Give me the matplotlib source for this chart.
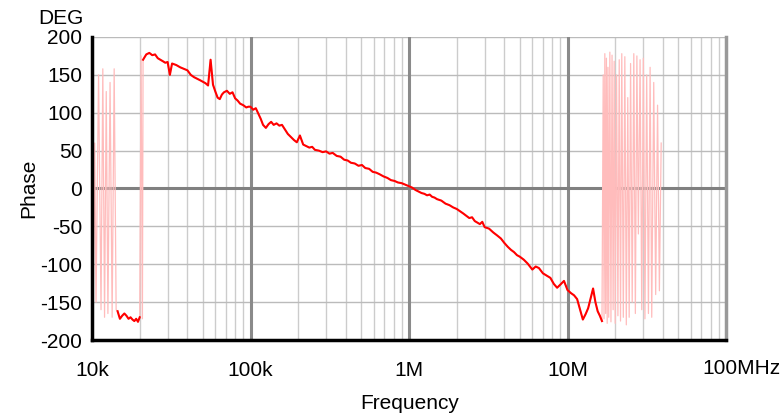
import matplotlib
matplotlib.use("Agg")
import matplotlib.pyplot as plt
import numpy as np
from matplotlib.ticker import FixedLocator, NullFormatter

plt.rcParams['font.family'] = ['Liberation Sans', 'DejaVu Sans']
plt.rcParams['axes.unicode_minus'] = False

# low-frequency part (wrapping around +-180), kHz
low_khz = [10.0, 10.2, 10.4, 10.6, 11.0, 11.4, 11.7, 12.0, 12.3, 12.6, 13.0, 13.4,
           13.8, 14.2]
low_phase = [140, -130, 60, -150, 150, -160, 158, -170, 128, -165, 140, -170,
             158, -160]

# main continuous trace, kHz
main_khz = [14.5, 15.0, 15.5, 16.0, 16.5, 17.0, 17.5, 18.0, 18.5, 19.0, 19.5, 20.0,
            20.4, 20.8,
            21, 22, 23, 24, 25, 26, 27, 28, 29, 30, 31, 32, 34, 36, 38, 40, 42, 44,
            46, 48, 50, 52, 54, 56, 58, 60, 62, 64, 66, 68, 71, 74, 77, 80, 83, 86,
            90, 94, 97,
            100, 104, 108, 112, 116, 120, 125, 130, 135, 140, 146, 152, 158, 165,
            172, 180, 188, 196, 205, 215, 225, 235, 245, 255, 270, 285, 300, 315,
            330, 350, 370, 390, 410, 430, 455, 480, 505, 530, 560, 590, 620, 650,
            690, 730, 770, 810, 850, 900, 950,
            1000, 1050, 1100, 1150, 1200, 1250, 1300, 1350, 1400, 1450, 1500, 1600,
            1700, 1800, 1900, 2000, 2100, 2200, 2300, 2400, 2500, 2600, 2700, 2800,
            2900, 3000, 3200, 3400, 3600, 3800, 4000, 4200, 4400, 4600, 4800, 5000,
            5300, 5600, 6000, 6300, 6600, 7000, 7400, 7800, 8200, 8600, 9000, 9500,
            10000, 10500, 11000, 11500, 12000, 12500, 13000, 13500, 14000, 14500,
            15000, 15500, 16000, 16500]
main_phase = [-162, -172, -168, -165, -168, -172, -170, -173, -175, -172, -176, -170,
              175, -172,
              170, 177, 179, 176, 177, 172, 170, 168, 166, 167, 150, 165, 163, 160,
              158, 156, 150, 147, 145, 143, 141, 139, 136, 170, 137, 128, 120, 118,
              124, 127, 129, 125, 127, 119, 116, 112, 110, 107, 108,
              108, 104, 106, 99, 92, 84, 80, 85, 88, 84, 86, 83, 84, 78, 72, 68, 64,
              61, 70, 58, 56, 54, 55, 51, 50, 48, 49, 46, 47, 43, 42, 38, 37, 34,
              33, 30, 31, 27, 26, 22, 21, 19, 16, 14, 11, 10, 8, 7, 5,
              3, 1, -2, -4, -6, -7, -9, -8, -11, -12, -14, -16, -20, -22, -25, -27,
              -30, -33, -36, -39, -38, -43, -45, -47, -44, -51, -53, -58, -62, -66,
              -72, -77, -81, -84, -88, -90, -94, -99, -107, -103, -105, -112, -115,
              -118, -126, -131, -127, -122, -134, -138, -141, -146, -160, -173,
              -166, -158, -145, -132, -150, -162, -168, -175]

# high-frequency part (wrapping), MHz
high_mhz = [16.8, 17.0, 17.2, 17.4, 17.6, 17.8, 18.0, 18.2, 18.5, 18.8, 19.1, 19.4,
            19.7, 20.0, 20.4, 20.8, 21.2, 21.6, 22.0, 22.5, 23.0, 23.5, 24.0, 24.5,
            25.0, 25.6, 26.2, 26.8, 27.4, 28.0, 28.7, 29.4, 30.1, 30.8, 31.6, 32.4,
            33.2, 34.0, 35.0, 36.0, 37.0, 38.0, 39.0]
high_phase = [150, -172, 178, -165, 172, -178, 160, -170, 180, -176, 176, -160,
              168, -178, 150, -168, 170, -175, 178, -170, 174, -180, 120, -170,
              165, -150, 178, -165, 175, -60, 170, -160, 172, -172, 150, -165,
              160, -170, 140, -140, 110, -135, 60]

xtick_vals = [1e4, 1e5, 1e6, 1e7, 1e8]
xtick_labels = ['10k', '100k', '1M', '10M', '']
yticks = [-200, -150, -100, -50, 0, 50, 100, 150, 200]

f_low = np.array(low_khz) * 1e3
f_main = np.array(main_khz) * 1e3
f_high = np.array(high_mhz) * 1e6

fig = plt.figure(figsize=(7.84, 4.15), dpi=100)
ax = fig.add_axes([92/784, 75/415, 634/784, 303/415])

ax.set_xscale('log')
ax.set_xlim(1e4, 1e8)
ax.set_ylim(-200, 200)

# grid
minors = [m * d for d in [1e4, 1e5, 1e6, 1e7] for m in range(2, 10)]
for x in minors:
    ax.axvline(x, color='#cccccc', lw=1, zorder=1)
for y in yticks:
    if y != 0:
        ax.axhline(y, color='#bbbbbb', lw=1, zorder=1)
for x in xtick_vals[1:4]:
    ax.axvline(x, color='#8a8a8a', lw=2.2, zorder=1.5)
ax.axhline(0, color='#808080', lw=2.2, zorder=1.5)

# traces
all_f = np.concatenate([f_low, f_main, f_high])
all_p = np.concatenate([low_phase, main_phase, high_phase])
ax.plot(all_f, all_p, color='#ffbcbc', lw=0.9, zorder=2)
ax.plot(f_main[:12], main_phase[:12], color='#ff0000', lw=1.5, zorder=3)
ax.plot(f_main[14:], main_phase[14:], color='#ff0000', lw=1.5, zorder=3)

# spines
ax.spines['top'].set_visible(False)
ax.spines['left'].set_color('black')
ax.spines['left'].set_linewidth(2.5)
ax.spines['bottom'].set_color('black')
ax.spines['bottom'].set_linewidth(2.5)
ax.spines['right'].set_color('#999999')
ax.spines['right'].set_linewidth(2.5)
for s in ax.spines.values():
    s.set_zorder(4)

ax.xaxis.set_major_locator(FixedLocator(xtick_vals))
ax.set_xticklabels(xtick_labels)
ax.xaxis.set_minor_formatter(NullFormatter())
ax.set_yticks(yticks)
ax.tick_params(axis='both', which='both', length=0, labelsize=15)
ax.tick_params(axis='x', pad=15)
ax.tick_params(axis='y', pad=7)

fig.text(702/784, 1 - 368/415, '100MHz', ha='left', va='center', fontsize=15)
fig.text(410/784, 1 - 403/415, 'Frequency', ha='center', va='center', fontsize=15)
fig.text(29/784, 1 - 188/415, 'Phase', ha='center', va='center', rotation=90, fontsize=15)
fig.text(83/784, 1 - 18/415, 'DEG', ha='right', va='center', fontsize=15)

fig.savefig('out.png', dpi=100)
